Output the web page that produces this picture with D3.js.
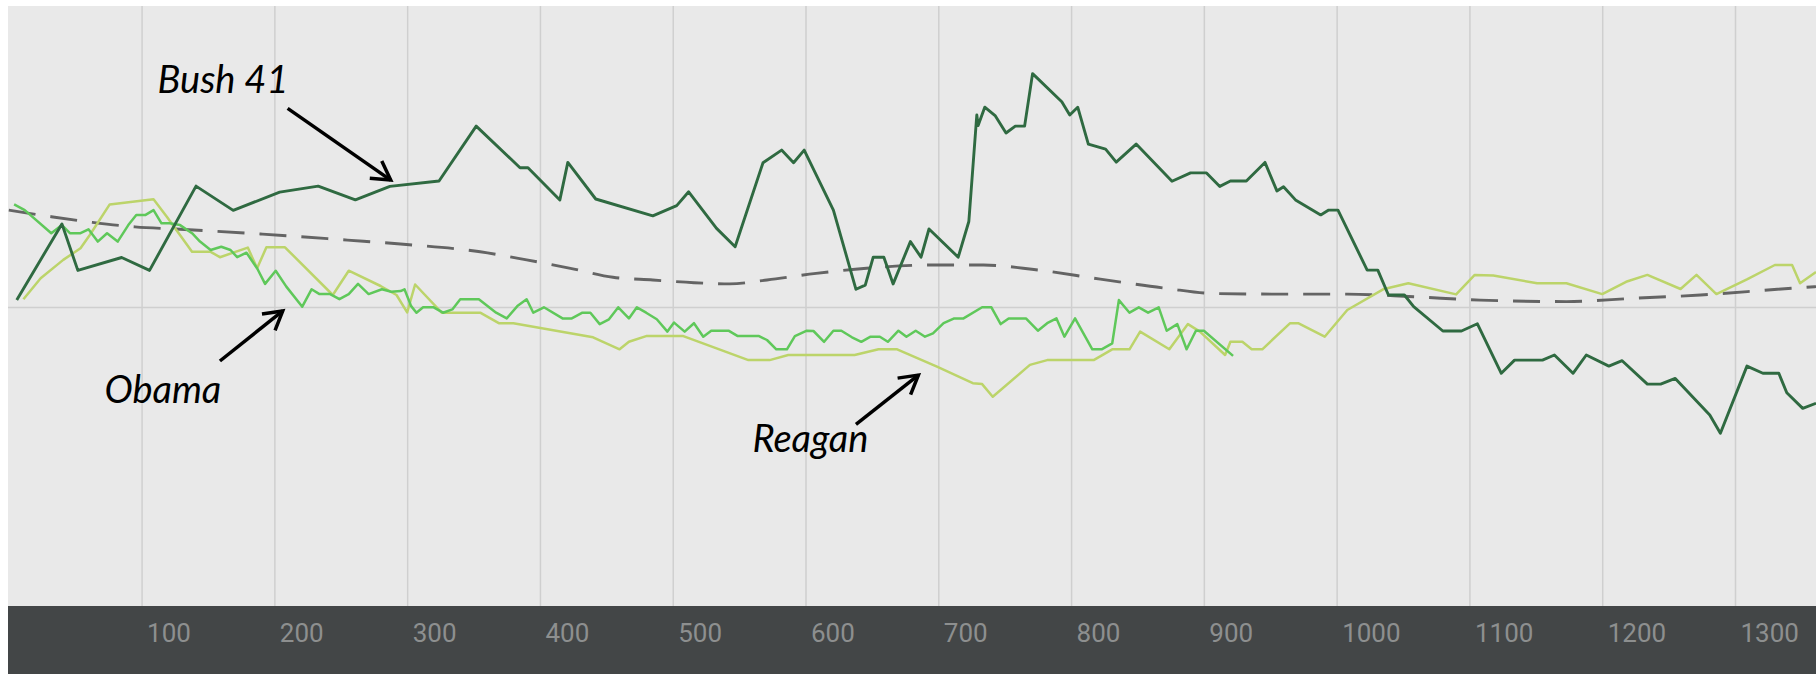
<!DOCTYPE html>
<html>
<head>
<meta charset="utf-8">
<script src="https://cdn.jsdelivr.net/npm/d3@7"></script>
<style>
  html, body { margin: 0; padding: 0; background: #fff; }
  svg { display: block; }
  .grid line { stroke: #cfcfcf; stroke-width: 1.5; }
  .grid path { stroke-width: 0; }
  .xlabels text { font-family: Roboto, sans-serif; font-size: 26px; fill: #8d8f8f; }
  .xlabels path, .xlabels line { stroke-width: 0; }
  .note { font-family: Lato, sans-serif; font-style: italic; font-size: 38px; fill: #000; }
</style>
</head>
<body>
<div id="chart"></div>
<script>
// [day, approval difference]
const bush41 = [[6,2.3],[40,27.7],[52,12.2],[85,16.5],[106,12.2],[141,40.3],[169,32.2],[204,38.3],[233,40.3],[261,35.7],[287,40.2],[324,42.0],[352,60.3],[385,46.4],[391,46.4],[415,35.7],[421,48.2],[442,36.0],[485,30.4],[503,33.8],[512,38.4],[533,26.2],[547,20.1],[568,48.1],[582,52.3],[591,48.1],[599,52.3],[621,32.3],[638,5.9],[645,7.3],[651,16.6],[659,16.6],[666,7.7],[679,21.8],[687,16.6],[693,26.0],[715,16.6],[723,28.5],[729,64.0],[730,60.5],[735,66.6],[743,63.7],[751,58.0],[758,60.3],[765,60.3],[771,77.8],[793,68.4],[799,64.0],[805,66.6],[813,54.3],[826,52.6],[834,48.3],[849,54.3],[876,41.9],[890,44.7],[902,44.7],[912,40.2],[920,42.0],[932,42.0],[946,48.2],[955,38.7],[960,40.1],[969,35.7],[988,30.7],[994,32.3],[1001,32.3],[1023,12.3],[1031,12.3],[1039,4.0],[1051,4.0],[1058,0.1],[1080,-8.0],[1094,-8.0],[1106,-5.6],[1124,-22.1],[1134,-17.7],[1155,-17.7],[1164,-16.0],[1178,-22.1],[1188,-16.0],[1205,-19.7],[1215,-17.9],[1234,-25.7],[1244,-25.7],[1255,-23.8],[1281,-36.0],[1289,-42.1],[1309,-19.7],[1321,-22.1],[1333,-22.1],[1339,-28.6],[1351,-33.8],[1361,-32.1]];

const obama = [[4,34.2],[12,32.3],[32,24.6],[40,27.3],[46,24.6],[54,24.6],[60,25.9],[67,21.8],[74,24.6],[82,21.8],[90,27.3],[96,30.7],[103,30.7],[109,32.3],[115,27.9],[121,27.9],[129,27.3],[138,24.6],[144,21.8],[152,19.0],[160,20.1],[167,19.0],[172,16.6],[179,18.1],[187,12.9],[193,7.7],[201,12.1],[209,6.8],[221,0.1],[228,5.9],[234,4.3],[242,4.3],[249,2.6],[256,4.3],[263,7.7],[271,4.3],[281,5.9],[288,5.1],[295,5.3],[298,5.9],[303,0.3],[307,-1.9],[312,-0.1],[320,-0.1],[327,-1.9],[334,-0.8],[340,2.6],[354,2.6],[367,-1.9],[375,-3.8],[383,0.3],[390,2.6],[395,-1.9],[403,-0.1],[417,-3.8],[424,-3.8],[432,-1.9],[438,-1.9],[445,-5.7],[452,-4.1],[459,-0.1],[467,-3.8],[473,-0.1],[480,-1.9],[488,-4.1],[496,-8.2],[501,-5.2],[509,-8.2],[516,-5.4],[523,-9.9],[529,-7.9],[542,-7.9],[549,-9.7],[565,-9.7],[571,-11.0],[578,-14.1],[586,-14.1],[592,-9.7],[601,-7.9],[606,-8.0],[614,-11.6],[621,-7.9],[627,-7.9],[635,-10.1],[642,-11.6],[649,-9.9],[656,-9.9],[662,-11.6],[670,-7.9],[676,-9.9],[683,-7.9],[690,-9.9],[696,-8.8],[704,-5.4],[712,-3.8],[719,-3.8],[733,-0.1],[740,-0.1],[747,-5.7],[753,-3.8],[766,-3.8],[775,-7.9],[782,-5.4],[789,-3.8],[795,-9.9],[803,-3.8],[816,-14.1],[823,-14.1],[831,-12.1],[836,2.3],[844,-1.9],[851,-0.1],[858,-1.9],[866,-0.1],[872,-7.9],[880,-5.7],[887,-14.1],[894,-7.9],[900,-7.9],[922,-16.3]];

const reagan = [[11,2.6],[24,9.6],[41,15.7],[54,19.6],[61,24.0],[76,34.2],[109,35.9],[119,30.1],[138,18.4],[152,18.4],[159,16.6],[180,19.8],[187,12.9],[194,19.9],[208,19.9],[244,4.0],[256,12.1],[280,7.0],[292,4.0],[300,-1.8],[306,7.5],[326,-1.9],[355,-1.9],[369,-5.4],[380,-5.4],[440,-10.1],[460,-14.1],[467,-11.6],[480,-9.7],[508,-9.7],[557,-17.7],[573,-17.7],[587,-16.0],[637,-16.0],[655,-14.1],[669,-14.1],[699,-19.9],[726,-25.4],[733,-25.7],[741,-29.9],[769,-19.3],[782,-17.7],[817,-17.7],[831,-14.1],[844,-14.1],[852,-8.2],[874,-14.1],[888,-5.7],[897,-8.2],[916,-16.0],[920,-11.6],[929,-11.6],[936,-14.1],[944,-14.1],[965,-5.4],[971,-5.4],[991,-9.9],[1008,-1.0],[1035,5.9],[1054,7.9],[1090,4.2],[1104,10.7],[1118,10.5],[1151,7.9],[1173,7.9],[1200,4.3],[1218,8.4],[1234,10.7],[1259,6.0],[1271,10.7],[1286,4.3],[1309,9.2],[1330,14.0],[1343,14.0],[1349,7.9],[1361,11.7]];

// smoothed average of all presidents (dashed)
const average = [[0,32.3],[32,30.1],[63,28.2],[95,26.7],[129,25.9],[191,24.3],[255,22.3],[295,21.0],[355,18.4],[390,15.7],[423,12.9],[455,9.9],[485,9.0],[516,8.1],[543,7.7],[571,9.0],[608,11.2],[646,12.9],[696,14.0],[734,14.0],[772,12.5],[822,9.3],[872,6.2],[907,4.5],[957,4.3],[1008,4.3],[1058,3.4],[1108,2.3],[1173,1.8],[1224,2.9],[1274,4.0],[1332,5.9],[1361,6.8]];

const xTicks = [100,200,300,400,500,600,700,800,900,1000,1100,1200,1300];

// annotation: label, label anchor, arrow tail, arrow tip (data units)
const notes = [
    { label: "Bush 41", at: [112, 71.4], tail: [210, 66.2], tip: [287.6, 42.3] },
    { label: "Obama",   at: [72, -32.1], tail: [159, -18.0], tip: [206.3, -1.3] },
    { label: "Reagan",  at: [560, -48.2], tail: [638, -39.1], tip: [685, -22.7] }
];

const W = 1816, H = 674;
const plotLeft = 8, plotTop = 6, plotBottom = 606;

const svg = d3.select("#chart").append("svg")
    .attr("width", W).attr("height", H);

svg.append("rect").attr("width", W).attr("height", H).attr("fill", "#fff");
svg.append("rect")
    .attr("x", plotLeft).attr("y", plotTop)
    .attr("width", W - plotLeft).attr("height", plotBottom - plotTop)
    .attr("fill", "#e9e9e9");
svg.append("rect")
    .attr("x", plotLeft).attr("y", plotBottom)
    .attr("width", W - plotLeft).attr("height", H - plotBottom)
    .attr("fill", "#434647");

const x = d3.scaleLinear().domain([0, 1361]).range([8.8, W]);
const y = d3.scaleLinear().domain([-100, 100]).range([607, 7]);

// vertical grid
svg.append("g").attr("class", "grid")
    .attr("transform", `translate(0,${plotBottom})`)
    .call(d3.axisBottom(x).tickValues(xTicks).tickSize(-(plotBottom - plotTop)).tickFormat(""));

// zero line
svg.append("g").attr("class", "grid")
    .attr("transform", `translate(${plotLeft},0)`)
    .call(d3.axisLeft(y).tickValues([0]).tickSize(-(W - plotLeft)).tickFormat(""));

// tick labels sit in the dark band, just right of each grid line
const xl = svg.append("g").attr("class", "xlabels")
    .attr("transform", `translate(0,${plotBottom})`)
    .call(d3.axisBottom(x).tickValues(xTicks).tickSize(0).tickFormat(d3.format("d")));
xl.selectAll("text")
    .attr("text-anchor", "start")
    .attr("x", 5)
    .attr("y", 36)
    .attr("dy", 0);

const line = d3.line().x(d => x(d[0])).y(d => y(d[1]));
const smooth = d3.line().x(d => x(d[0])).y(d => y(d[1])).curve(d3.curveMonotoneX);

svg.append("path").datum(average)
    .attr("d", smooth).attr("fill", "none")
    .attr("stroke", "#555").attr("stroke-width", 2.9)
    .attr("stroke-dasharray", "27,15").attr("opacity", 0.9);

svg.append("path").datum(reagan)
    .attr("d", line).attr("fill", "none")
    .attr("stroke", "#bcd46a").attr("stroke-width", 2.5)
    .attr("stroke-linejoin", "round");

svg.append("path").datum(obama)
    .attr("d", line).attr("fill", "none")
    .attr("stroke", "#5fc85a").attr("stroke-width", 2.5)
    .attr("stroke-linejoin", "round");

svg.append("path").datum(bush41)
    .attr("d", line).attr("fill", "none")
    .attr("stroke", "#2f6a41").attr("stroke-width", 2.9)
    .attr("stroke-linejoin", "round");

// annotations
notes.forEach(n => {
    svg.append("text").attr("class", "note")
        .attr("x", x(n.at[0])).attr("y", y(n.at[1]))
        .text(n.label);

    const x1 = x(n.tail[0]), y1 = y(n.tail[1]);
    const x2 = x(n.tip[0]), y2 = y(n.tip[1]);
    const a = Math.atan2(y2 - y1, x2 - x1);
    const len = 21, spread = Math.PI / 6;
    svg.append("line")
        .attr("x1", x1).attr("y1", y1).attr("x2", x2).attr("y2", y2)
        .attr("stroke", "#000").attr("stroke-width", 3.5);
    svg.append("path")
        .attr("d", `M${x2 - len * Math.cos(a - spread)},${y2 - len * Math.sin(a - spread)}` +
                   `L${x2},${y2}` +
                   `L${x2 - len * Math.cos(a + spread)},${y2 - len * Math.sin(a + spread)}`)
        .attr("fill", "none").attr("stroke", "#000").attr("stroke-width", 3.5)
        .attr("stroke-linejoin", "miter");
});
</script>
</body>
</html>
